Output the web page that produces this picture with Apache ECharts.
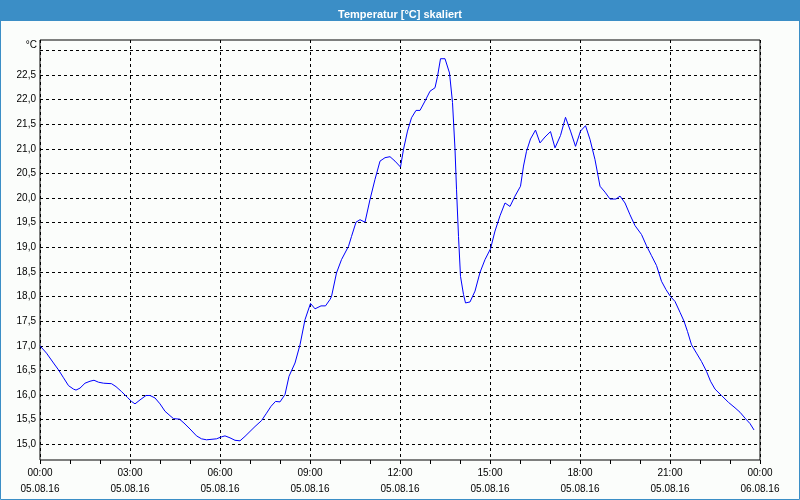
<!DOCTYPE html>
<html><head><meta charset="utf-8">
<script src="https://cdn.jsdelivr.net/npm/echarts@6/dist/echarts.min.js"></script>
<style>html,body{margin:0;padding:0;background:#fbfdfb}#c{width:800px;height:500px}</style>
</head><body><div id="c"></div>
<script>
const titleText = 'Temperatur [°C] skaliert';
const unitLabel = '°C';
const times = ['00:00','00:13','00:27','00:37','00:47','00:57','01:07','01:12','01:20','01:30','01:40','01:48','01:57','02:07','02:23','02:32','02:43','02:55','03:03','03:10','03:20','03:32','03:40','03:50','04:00','04:10','04:20','04:27','04:39','04:48','05:00','05:13','05:23','05:33','05:53','06:03','06:10','06:20','06:30','06:40','06:50','07:00','07:10','07:23','07:33','07:42','07:51','08:00','08:10','08:18','08:30','08:40','08:50','09:01','09:10','09:22','09:31','09:40','09:43','09:53','10:03','10:17','10:23','10:32','10:40','10:50','11:00','11:10','11:20','11:30','11:40','11:50','12:01','12:07','12:15','12:23','12:32','12:40','12:50','13:00','13:10','13:15','13:21','13:30','13:39','13:45','13:50','13:53','13:57','14:01','14:07','14:11','14:20','14:30','14:40','14:50','15:01','15:10','15:20','15:30','15:40','15:50','16:01','16:07','16:13','16:21','16:31','16:40','16:50','17:01','17:10','17:21','17:31','17:41','17:51','18:01','18:11','18:20','18:30','18:40','18:50','19:00','19:12','19:20','19:30','19:40','19:50','20:03','20:13','20:23','20:33','20:43','20:52','21:01','21:10','21:20','21:28','21:35','21:43','21:53','22:03','22:13','22:21','22:30','22:43','22:57','23:10','23:20','23:30','23:40','23:48'];
const temps = [17.00,16.85,16.65,16.51,16.35,16.19,16.12,16.10,16.14,16.24,16.28,16.30,16.26,16.24,16.23,16.17,16.07,15.95,15.87,15.82,15.90,15.99,15.99,15.94,15.82,15.67,15.58,15.52,15.51,15.43,15.31,15.17,15.11,15.09,15.11,15.15,15.17,15.13,15.08,15.07,15.16,15.26,15.36,15.48,15.63,15.77,15.87,15.86,16.01,16.38,16.65,17.02,17.53,17.86,17.75,17.81,17.81,17.94,18.00,18.48,18.75,19.02,19.22,19.51,19.56,19.51,19.97,20.38,20.75,20.82,20.84,20.75,20.63,20.99,21.36,21.63,21.78,21.78,21.97,22.17,22.24,22.47,22.83,22.83,22.54,21.94,20.99,20.18,19.22,18.41,18.04,17.87,17.89,18.11,18.49,18.75,18.97,19.33,19.64,19.90,19.83,20.04,20.24,20.65,20.95,21.20,21.38,21.12,21.24,21.35,21.02,21.27,21.64,21.36,21.05,21.36,21.47,21.19,20.78,20.24,20.12,19.98,19.98,20.04,19.90,19.66,19.44,19.26,19.03,18.83,18.63,18.31,18.14,18.00,17.90,17.68,17.50,17.29,17.02,16.85,16.68,16.48,16.28,16.12,15.99,15.85,15.74,15.65,15.53,15.42,15.29];
const xTickLabels = ['00:00\n05.08.16','03:00\n05.08.16','06:00\n05.08.16','09:00\n05.08.16','12:00\n05.08.16','15:00\n05.08.16','18:00\n05.08.16','21:00\n05.08.16','00:00\n06.08.16'];
const yGridValues = [15.0,15.5,16.0,16.5,17.0,17.5,18.0,18.5,19.0,19.5,20.0,20.5,21.0,21.5,22.0,22.5,23.0];
const yLabelValues = [15.0,15.5,16.0,16.5,17.0,17.5,18.0,18.5,19.0,19.5,20.0,20.5,21.0,21.5,22.0,22.5];

function toMin(t){const p=t.split(':').map(Number);return p[0]*60+p[1];}
const data = times.map((t,i)=>[toMin(t), temps[i]]);
const FONT = 'Liberation Sans';
const chart = echarts.init(document.getElementById('c'), null, {renderer:'canvas'});
chart.setOption({
  backgroundColor:'#fbfdfb',
  animation:false,
  title:{text:titleText,left:'center',top:4,z:10,textStyle:{color:'#ffffff',fontSize:11,fontWeight:'bold',fontFamily:FONT}},
  graphic:[
    {type:'rect',z:0,silent:true,shape:{x:0,y:0,width:800,height:21},style:{fill:'#3b8ec6'}},
    {type:'rect',z:0,silent:true,shape:{x:0.5,y:0.5,width:799,height:499},style:{fill:null,stroke:'#3b8ec6',lineWidth:1}},
    {type:'text',z:5,silent:true,x:37,y:45,style:{text:unitLabel,align:'right',verticalAlign:'middle',font:'10px "Liberation Sans"',fill:'#000'}}
  ],
  grid:{left:40,right:40,top:40,bottom:40,show:true,borderColor:'#000',borderWidth:1,backgroundColor:'transparent'},
  xAxis:{type:'value',min:0,max:1440,interval:180,
    axisLine:{show:false},
    axisTick:{show:true,length:4,lineStyle:{color:'#000'}},
    minorTick:{show:true,splitNumber:3,length:4,lineStyle:{color:'#000'}},
    splitLine:{show:true,lineStyle:{color:'#000',type:[3,3],width:1}},
    axisLabel:{margin:5,lineHeight:16,fontSize:10,color:'#000',fontFamily:FONT,formatter:v=>xTickLabels[Math.round(v/180)]}
  },
  yAxis:{type:'value',min:14.68,max:23.21,
    axisLine:{show:false},
    axisTick:{show:false,customValues:yGridValues},
    axisLabel:{customValues:yLabelValues,margin:4,fontSize:10,color:'#000',fontFamily:FONT,formatter:v=>v.toFixed(1).replace('.',',')},
    splitLine:{show:true,lineStyle:{color:'#000',type:[3,3],width:1}}
  },
  series:[{type:'line',data:data,symbol:'none',showSymbol:false,smooth:false,lineStyle:{color:'#0000ff',width:1},z:3}]
});
</script></body></html>
